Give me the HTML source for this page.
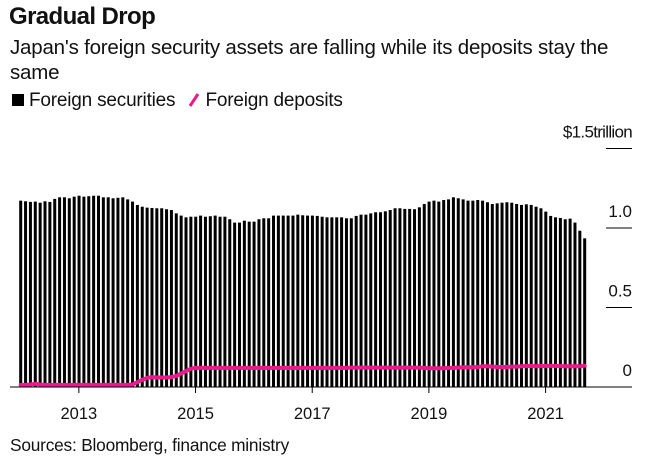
<!DOCTYPE html>
<html><head><meta charset="utf-8"><style>
body{margin:0;background:#fff;font-family:"Liberation Sans",sans-serif;color:#111;}
#wrap{position:relative;width:653px;height:462px;overflow:hidden;}
.t{position:absolute;white-space:nowrap;}
</style></head><body>
<div id="wrap">
<div class="t" style="left:9px;top:3px;font-size:24px;font-weight:bold;letter-spacing:-0.6px;">Gradual Drop</div>
<div class="t" style="left:10px;top:35px;font-size:20.5px;line-height:25px;letter-spacing:-0.2px;">Japan's foreign security assets are falling while its deposits stay the<br>same</div>
<div class="t" style="left:12px;top:90px;font-size:19px;letter-spacing:-0.2px;">
<span><span style="display:inline-block;width:12px;height:12px;background:#000;margin-right:5px;"></span>Foreign securities</span>
<span style="margin-left:8px;"><svg width="12" height="15" style="vertical-align:-1px;margin-right:5px"><line x1="2" y1="14" x2="10" y2="2" stroke="#ec188c" stroke-width="3"/></svg>Foreign deposits</span>
</div>
<svg id="plot" width="653" height="462" style="position:absolute;left:0;top:0"></svg>
<div class="t" style="left:10px;top:435px;font-size:17.3px;letter-spacing:-0.2px;">Sources: Bloomberg, finance ministry</div>
</div>
<script>
const years=[2012,2013,2014,2015,2016,2017,2018,2019,2020,2021];
const securities=[
1.172,1.168,1.164,1.166,1.159,1.168,1.164,1.183,1.193,1.193,1.187,1.197,
1.203,1.197,1.200,1.203,1.203,1.193,1.193,1.187,1.190,1.193,1.180,1.166,
1.145,1.134,1.128,1.126,1.124,1.124,1.118,1.113,1.092,1.078,1.067,1.071,
1.071,1.078,1.071,1.074,1.078,1.071,1.071,1.055,1.034,1.034,1.046,1.040,
1.040,1.055,1.061,1.061,1.078,1.078,1.078,1.078,1.078,1.084,1.080,1.078,
1.078,1.076,1.071,1.067,1.067,1.067,1.067,1.061,1.061,1.076,1.084,1.084,
1.092,1.099,1.099,1.105,1.113,1.124,1.124,1.120,1.120,1.118,1.130,1.151,
1.166,1.172,1.166,1.176,1.180,1.193,1.187,1.180,1.172,1.172,1.176,1.172,
1.162,1.151,1.155,1.159,1.162,1.159,1.151,1.145,1.149,1.145,1.134,1.124,
1.103,1.076,1.067,1.063,1.055,1.059,1.034,0.983,0.935];
const deposits=[
0.013,0.013,0.016,0.02,0.016,0.013,0.013,0.013,0.013,0.013,0.013,0.013,
0.013,0.013,0.013,0.013,0.013,0.013,0.013,0.013,0.013,0.013,0.013,0.016,
0.03,0.045,0.058,0.062,0.06,0.06,0.06,0.062,0.07,0.085,0.1,0.115,
0.12,0.12,0.12,0.12,0.12,0.12,0.12,0.12,0.12,0.12,0.12,0.12,
0.12,0.12,0.12,0.12,0.12,0.12,0.12,0.12,0.12,0.12,0.12,0.12,
0.12,0.12,0.12,0.12,0.12,0.12,0.12,0.12,0.122,0.122,0.122,0.122,
0.122,0.122,0.122,0.122,0.122,0.122,0.122,0.122,0.122,0.122,0.122,0.12,
0.118,0.118,0.118,0.118,0.12,0.12,0.122,0.124,0.124,0.124,0.126,0.13,
0.13,0.128,0.126,0.126,0.126,0.128,0.128,0.13,0.132,0.132,0.13,0.132,
0.132,0.134,0.132,0.132,0.13,0.13,0.13,0.13,0.134];
const yTicks=[0,0.5,1.0,1.5];
const yTickLabels=["0","0.5","1.0","$1.5trillion"];
const xTickYears=[2013,2015,2017,2019,2021];

const NS="http://www.w3.org/2000/svg";
const svg=document.getElementById('plot');
const x0=20.7, monthW=4.862, startYear=2012;
const xScale=m=>x0+m*monthW;
const yScale=v=>387-v*159;
function mk(tag,attrs){const e=document.createElementNS(NS,tag);for(const k in attrs)e.setAttribute(k,attrs[k]);svg.appendChild(e);return e;}

securities.forEach((v,i)=>{
  const r=mk('rect',{x:xScale(i)-1.5,y:yScale(v),width:3,height:yScale(0)-yScale(v),fill:'#000'});
  
  
});
const pts=deposits.map((v,i)=>xScale(i).toFixed(1)+','+yScale(v).toFixed(1)).join(' ');
const pl=mk('polyline',{points:pts,fill:'none',stroke:'#ec188c','stroke-width':4,'stroke-linejoin':'round','stroke-linecap':'round'});



const base=mk('line',{x1:10,x2:632,y1:387,y2:387,stroke:'#000','stroke-width':1});



yTicks.forEach((v,i)=>{
  if(v>0){
    const g=mk('line',{x1:606,x2:632,y1:yScale(v),y2:yScale(v),stroke:'#000','stroke-width':1});
    
    
  }
  const t=mk('text',{x:632,y:yScale(v)-11,'text-anchor':'end','font-size':17,'font-family':'Liberation Sans, sans-serif',fill:'#111'});
  if(i===3){t.setAttribute('letter-spacing','-0.7');}
  t.textContent=yTickLabels[i];
  
  
});
xTickYears.forEach(yr=>{
  const x=xScale((yr-startYear)*12)-0.2;
  const tk=mk('line',{x1:x,x2:x,y1:387,y2:393,stroke:'#000','stroke-width':1});
  
  
  const t=mk('text',{x:x,y:419,'text-anchor':'middle','font-size':16.5,'font-family':'Liberation Sans, sans-serif',fill:'#111'});
  t.textContent=yr;
  
  
});
</script>
</body></html>
